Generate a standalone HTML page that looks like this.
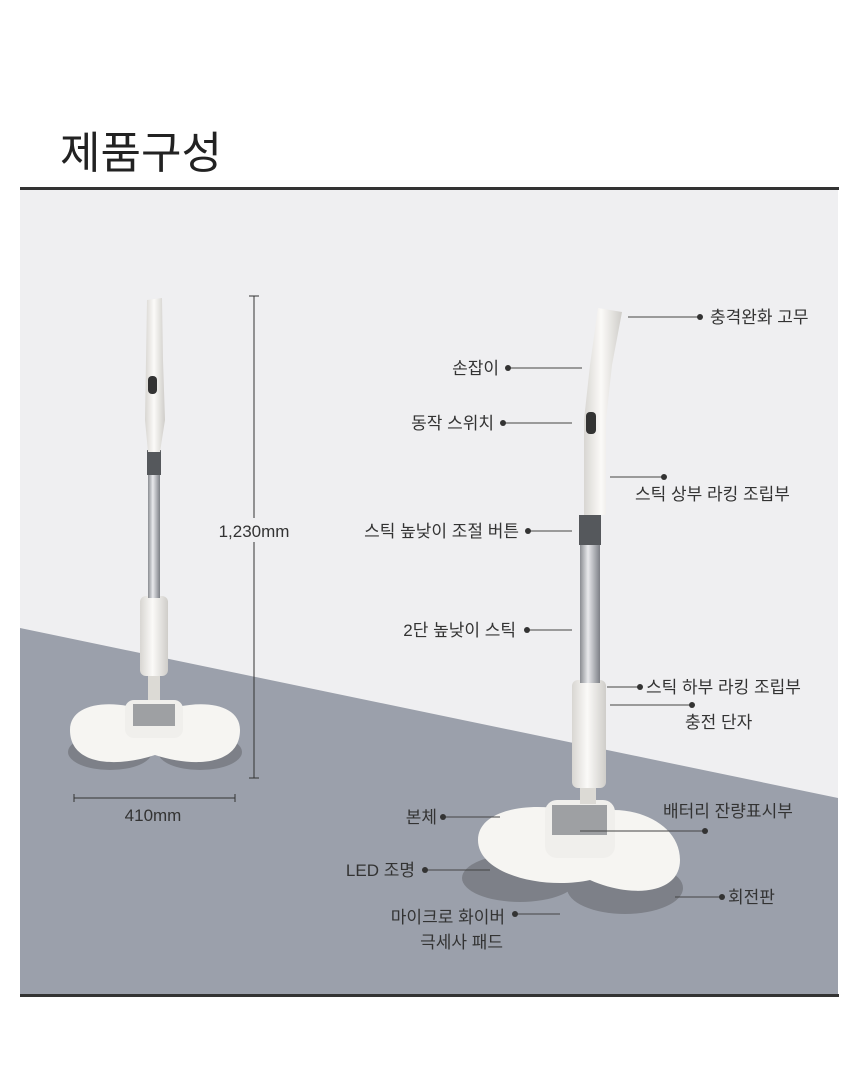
<!DOCTYPE html>
<html><head><meta charset="utf-8"><style>
html,body{margin:0;padding:0;background:#fff;}
body{width:860px;height:1067px;position:relative;overflow:hidden;font-family:"Liberation Sans","Noto Sans CJK KR",sans-serif;}
</style></head><body>
<svg width="860" height="1067" viewBox="0 0 860 1067" xmlns="http://www.w3.org/2000/svg" style="position:absolute;left:0;top:0">
<defs>
<linearGradient id="pole" x1="0" x2="1"><stop offset="0" stop-color="#8a8d92"/><stop offset="0.4" stop-color="#e8e9ec"/><stop offset="1" stop-color="#7d8086"/></linearGradient>
<linearGradient id="wh" x1="0" x2="1"><stop offset="0" stop-color="#d8d6d2"/><stop offset="0.45" stop-color="#fbfaf8"/><stop offset="1" stop-color="#cfcdc9"/></linearGradient>
</defs>
<text x="60" y="168" font-size="44" fill="#222" font-family="Liberation Sans,Noto Sans CJK KR,sans-serif">제품구성</text>
<rect x="20" y="187" width="819" height="3" fill="#333"/>
<rect x="20" y="190" width="818" height="805" fill="#efeff1"/>
<polygon points="20,628 838,798 838,995 20,995" fill="#9ba0ab"/>
<rect x="20" y="994" width="819" height="3" fill="#333"/>

<!-- left mop -->
<ellipse cx="110" cy="752" rx="42" ry="18" fill="#7d8088"/>
<ellipse cx="200" cy="752" rx="42" ry="18" fill="#7d8088"/>
<path d="M70,730 C70,700 120,698 155,715 C190,698 240,700 240,730 C240,765 195,768 155,755 C115,768 70,765 70,730Z" fill="#f6f5f2"/>
<rect x="125" y="700" width="58" height="38" rx="9" fill="#f0efec"/>
<rect x="133" y="704" width="42" height="22" fill="#9ea0a3"/>
<rect x="148" y="670" width="12" height="30" fill="#dcdad5"/>
<rect x="140" y="596" width="28" height="80" rx="6" fill="url(#wh)"/>
<rect x="148" y="450" width="12" height="148" fill="url(#pole)"/>
<rect x="147" y="450" width="14" height="25" fill="#55585c"/>
<path d="M147,300 L162,298 L163,360 L165,420 L160,452 L148,452 L145,420 L146,360Z" fill="url(#wh)"/>
<rect x="148" y="376" width="9" height="18" rx="4" fill="#333"/>
<g stroke="#333" stroke-width="1">
<line x1="254" y1="296" x2="254" y2="778"/><line x1="249" y1="296" x2="259" y2="296"/><line x1="249" y1="778" x2="259" y2="778"/>
<line x1="74" y1="798" x2="235" y2="798"/><line x1="74" y1="794" x2="74" y2="802"/><line x1="235" y1="794" x2="235" y2="802"/>
</g>
<rect x="208" y="518" width="92" height="24" fill="#efeff1"/>
<text x="254" y="537" font-size="17" fill="#333" text-anchor="middle">1,230mm</text>
<text x="153" y="821" font-size="17" fill="#333" text-anchor="middle">410mm</text>

<!-- right mop -->
<ellipse cx="520" cy="878" rx="58" ry="24" fill="#7d8088"/>
<ellipse cx="625" cy="888" rx="58" ry="26" fill="#7d8088"/>
<path d="M478,840 C478,805 545,800 585,815 C625,800 680,820 680,860 C680,895 630,898 590,880 C545,890 478,875 478,840Z" fill="#f6f5f2"/>
<rect x="545" y="800" width="70" height="58" rx="12" fill="#f0efec"/>
<rect x="552" y="805" width="55" height="30" fill="#9ea0a3"/>
<rect x="580" y="780" width="16" height="24" fill="#dcdad5"/>
<rect x="572" y="680" width="34" height="108" rx="6" fill="url(#wh)"/>
<rect x="580" y="515" width="20" height="168" fill="url(#pole)"/>
<rect x="579" y="515" width="22" height="30" fill="#55585c"/>
<path d="M598,308 L622,312 L612,365 L606,420 L606,515 L584,515 L584,420 L590,365Z" fill="url(#wh)"/>
<rect x="586" y="412" width="10" height="22" rx="4" fill="#333"/>

<g stroke="#444" stroke-width="1">
<line x1="628" y1="317" x2="700" y2="317"/>
<line x1="508" y1="368" x2="582" y2="368"/>
<line x1="503" y1="423" x2="572" y2="423"/>
<line x1="610" y1="477" x2="664" y2="477"/>
<line x1="528" y1="531" x2="572" y2="531"/>
<line x1="527" y1="630" x2="572" y2="630"/>
<line x1="607" y1="687" x2="640" y2="687"/>
<line x1="610" y1="705" x2="692" y2="705"/>
<line x1="443" y1="817" x2="500" y2="817"/>
<line x1="580" y1="831" x2="705" y2="831"/>
<line x1="425" y1="870" x2="490" y2="870"/>
<line x1="675" y1="897" x2="722" y2="897"/>
<line x1="515" y1="914" x2="560" y2="914"/>
</g>
<g fill="#333">
<circle cx="700" cy="317" r="3"/><circle cx="508" cy="368" r="3"/><circle cx="503" cy="423" r="3"/>
<circle cx="664" cy="477" r="3"/><circle cx="528" cy="531" r="3"/><circle cx="527" cy="630" r="3"/>
<circle cx="640" cy="687" r="3"/><circle cx="692" cy="705" r="3"/><circle cx="443" cy="817" r="3"/>
<circle cx="705" cy="831" r="3"/><circle cx="425" cy="870" r="3"/><circle cx="722" cy="897" r="3"/>
<circle cx="515" cy="914" r="3"/>
</g>
<g font-size="17" fill="#333">
<text x="710" y="323">충격완화 고무</text>
<text x="499" y="374" text-anchor="end">손잡이</text>
<text x="494" y="429" text-anchor="end">동작 스위치</text>
<text x="635" y="500">스틱 상부 라킹 조립부</text>
<text x="519" y="537" text-anchor="end">스틱 높낮이 조절 버튼</text>
<text x="516" y="636" text-anchor="end">2단 높낮이 스틱</text>
<text x="646" y="693">스틱 하부 라킹 조립부</text>
<text x="685" y="728">충전 단자</text>
<text x="437" y="823" text-anchor="end">본체</text>
<text x="663" y="817">배터리 잔량표시부</text>
<text x="415" y="876" text-anchor="end">LED 조명</text>
<text x="728" y="903">회전판</text>
<text x="505" y="923" text-anchor="end">마이크로 화이버</text>
<text x="503" y="948" text-anchor="end">극세사 패드</text>
</g>
</svg>
</body></html>
